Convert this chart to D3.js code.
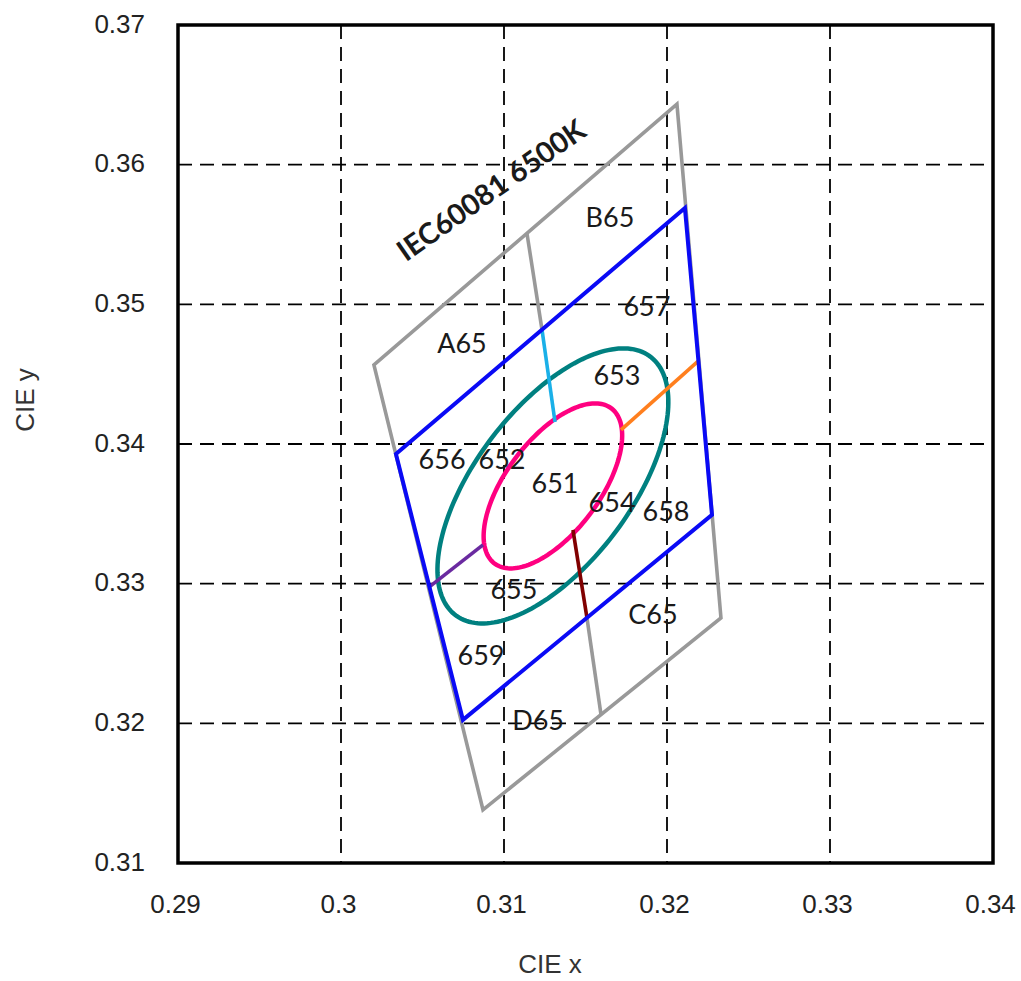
<!DOCTYPE html>
<html>
<head>
<meta charset="utf-8">
<script src="https://cdn.jsdelivr.net/npm/d3@7"></script>
<style>
  html, body { margin: 0; padding: 0; background: #fff; }
  svg { display: block; }
</style>
</head>
<body>
<svg id="chart" width="1021" height="981"></svg>
<script>
// ---- data ----
const xTicks = [0.29, 0.30, 0.31, 0.32, 0.33, 0.34];
const yTicks = [0.31, 0.32, 0.33, 0.34, 0.35, 0.36, 0.37];
const xTickLabels = ["0.29", "0.3", "0.31", "0.32", "0.33", "0.34"];
const yTickLabels = ["0.31", "0.32", "0.33", "0.34", "0.35", "0.36", "0.37"];

// IEC60081 6500K outer zone (gray)
const outerZone = [[0.32061, 0.36434], [0.30202, 0.34566], [0.30871, 0.31381], [0.32331, 0.32755]];
// inner zone (blue)
const innerZone = [[0.32110, 0.35690], [0.30337, 0.33929], [0.30748, 0.32025], [0.32276, 0.33493]];
// divider segments
const grayTop = [[0.31141, 0.35507], [0.31233, 0.34819]];
const grayBottom = [[0.31509, 0.32755], [0.31595, 0.32064]];
const cyanSeg = [[0.31233, 0.34819], [0.31313, 0.34158]];
const maroonSeg = [[0.31423, 0.33385], [0.31509, 0.32755]];
const orangeSeg = [[0.31718, 0.34101], [0.32193, 0.34595]];
const purpleSeg = [[0.30871, 0.33278], [0.30542, 0.32977]];

// ellipses: centre x, centre y, semi-major, semi-minor, angle (deg, CIE space)
const ellipseCx = [0.3130, 0.3130];
const ellipseCy = [0.3370, 0.3370];
const ellipseA = [0.01105, 0.00663];
const ellipseB = [0.00500, 0.00300];
const ellipseAngle = [59.4, 59.4];
const ellipseColors = ["#008080", "#ff0080"];

// zone labels
const zoneNames = ["B65", "A65", "657", "653", "656", "652", "651", "654", "658", "655", "C65", "659", "D65"];
const zoneX = [0.31650, 0.30742, 0.31877, 0.31693, 0.30620, 0.30988, 0.31313, 0.31663, 0.31994, 0.31061, 0.31914, 0.30859, 0.31209];
const zoneY = [0.35626, 0.34724, 0.34989, 0.34495, 0.33893, 0.33893, 0.33722, 0.33586, 0.33521, 0.32963, 0.32784, 0.32490, 0.32025];
const titleText = "IEC60081 6500K";
const titlePos = [0.30920, 0.35819];

// ---- layout ----
const svg = d3.select("#chart");
const L = 178, T = 25, R = 993, B = 863;
const x = d3.scaleLinear().domain([0.29, 0.34]).range([L, R]);
const y = d3.scaleLinear().domain([0.31, 0.37]).range([B, T]);

// grid
const grid = svg.append("g");
grid.selectAll("line.vx").data(xTicks.slice(1, -1)).join("line")
  .attr("x1", d => x(d)).attr("x2", d => x(d)).attr("y1", T).attr("y2", B)
  .attr("stroke", "#000").attr("stroke-width", 1.8).attr("stroke-dasharray", "14,8");
grid.selectAll("line.hy").data(yTicks.slice(1, -1)).join("line")
  .attr("y1", d => y(d)).attr("y2", d => y(d)).attr("x1", L).attr("x2", R)
  .attr("stroke", "#000").attr("stroke-width", 1.8).attr("stroke-dasharray", "14,8");

// axes (labels only; frame drawn separately)
const xAxis = d3.axisBottom(x).tickValues(xTicks).tickSize(0).tickPadding(0)
  .tickFormat((d, i) => xTickLabels[i]);
const gx = svg.append("g").attr("transform", `translate(-3,${B})`).call(xAxis);
gx.select(".domain").remove();
gx.selectAll("text").attr("y", 50).attr("dy", 0)
  .style("font-family", "'Liberation Sans', Arial, sans-serif").style("font-size", "26px").attr("fill", "#222");

const yAxis = d3.axisLeft(y).tickValues(yTicks).tickSize(0).tickPadding(0)
  .tickFormat((d, i) => yTickLabels[i]);
const gy = svg.append("g").attr("transform", `translate(145,-2)`).call(yAxis);
gy.select(".domain").remove();
gy.selectAll("text").attr("x", 0).attr("dy", "0.35em")
  .style("font-family", "'Liberation Sans', Arial, sans-serif").style("font-size", "26px").attr("fill", "#222");

// axis titles
svg.append("text").attr("x", 550).attr("y", 973).attr("text-anchor", "middle")
  .style("font-family", "'Liberation Sans', Arial, sans-serif").style("font-size", "26px").attr("fill", "#333")
  .text("CIE x");
svg.append("text").attr("transform", "translate(34,400) rotate(-90)").attr("text-anchor", "middle")
  .style("font-family", "'Liberation Sans', Arial, sans-serif").style("font-size", "26px").attr("fill", "#333")
  .text("CIE y");

const line = d3.line().x(d => x(d[0])).y(d => y(d[1]));
const closed = d3.line().x(d => x(d[0])).y(d => y(d[1])).curve(d3.curveLinearClosed);

// outer zone + dividers
svg.append("path").attr("d", closed(outerZone)).attr("fill", "none").attr("stroke", "#999").attr("stroke-width", 3.6).attr("stroke-linejoin", "miter");
svg.append("path").attr("d", line(grayTop)).attr("fill", "none").attr("stroke", "#999").attr("stroke-width", 3.6);
svg.append("path").attr("d", line(grayBottom)).attr("fill", "none").attr("stroke", "#999").attr("stroke-width", 3.6);

// ellipses
function ellipsePts(i) {
  const th = ellipseAngle[i] * Math.PI / 180;
  const n = 180, pts = [];
  for (let k = 0; k < n; k++) {
    const t = 2 * Math.PI * k / n;
    pts.push([
      ellipseCx[i] + ellipseA[i] * Math.cos(t) * Math.cos(th) - ellipseB[i] * Math.sin(t) * Math.sin(th),
      ellipseCy[i] + ellipseA[i] * Math.cos(t) * Math.sin(th) + ellipseB[i] * Math.sin(t) * Math.cos(th)
    ]);
  }
  return pts;
}
[0, 1].forEach(i => {
  svg.append("path").attr("d", closed(ellipsePts(i))).attr("fill", "none")
    .attr("stroke", ellipseColors[i]).attr("stroke-width", 4.5);
});

// coloured segments
[[cyanSeg, "#1ab0e8"], [maroonSeg, "#800000"], [orangeSeg, "#ff7f1e"], [purpleSeg, "#6a2aa0"]].forEach(([s, c]) => {
  svg.append("path").attr("d", line(s)).attr("fill", "none").attr("stroke", c).attr("stroke-width", 3.6);
});

// inner zone
svg.append("path").attr("d", closed(innerZone)).attr("fill", "none").attr("stroke", "#0a0af5").attr("stroke-width", 4).attr("stroke-linejoin", "miter");

// labels
svg.selectAll("text.zone").data(zoneNames).join("text").attr("class", "zone")
  .attr("x", (d, i) => x(zoneX[i])).attr("y", (d, i) => y(zoneY[i]))
  .attr("text-anchor", "middle").attr("dy", "0.36em")
  .style("font-family", "Lato, 'Open Sans', sans-serif").style("font-size", "27px").attr("fill", "#1a1a1a")
  .text(d => d);

svg.append("text")
  .attr("transform", `translate(${x(titlePos[0])},${y(titlePos[1])}) rotate(-35)`)
  .attr("text-anchor", "middle").attr("dy", "0.36em")
  .style("font-family", "Lato, 'Open Sans', sans-serif").style("font-size", "29px").style("font-weight", "bold").attr("fill", "#1a1a1a")
  .text(titleText);

// frame
svg.append("rect").attr("x", L).attr("y", T).attr("width", R - L).attr("height", B - T)
  .attr("fill", "none").attr("stroke", "#000").attr("stroke-width", 3.5);
</script>
</body>
</html>
